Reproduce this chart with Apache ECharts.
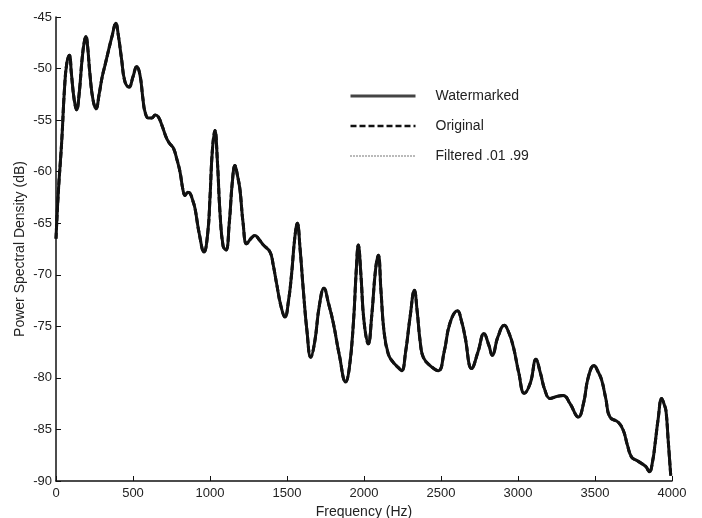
<!DOCTYPE html>
<html>
<head>
<meta charset="utf-8">
<script src="https://cdn.jsdelivr.net/npm/echarts@6/dist/echarts.min.js"></script>
<style>html,body{margin:0;padding:0;background:#fff}#c{width:702px;height:518px}</style>
</head>
<body>
<div id="c"></div>
<script>
// Frequency (Hz) samples
const freq = [0,15,37,55,70,87,100,118,134,150,170,185,195,205,220,240,260,280,300,318,340,365,388,405,425,448,474,500,524,545,565,578,600,621,645,665,690,719,740,762,785,805,825,838,855,870,888,903,930,961,985,1000,1015,1032,1048,1065,1085,1104,1125,1145,1162,1180,1195,1215,1238,1265,1292,1320,1346,1390,1410,1433,1460,1487,1510,1530,1550,1567,1585,1606,1630,1654,1680,1710,1740,1770,1801,1840,1881,1905,1931,1950,1963,1980,2000,2028,2050,2075,2093,2110,2130,2158,2190,2223,2245,2270,2300,2327,2345,2365,2385,2429,2483,2520,2558,2606,2635,2656,2699,2740,2779,2810,2833,2870,2911,2940,2970,3005,3041,3080,3117,3145,3175,3208,3250,3294,3338,3392,3425,3457,3494,3520,3543,3570,3597,3651,3684,3710,3738,3770,3803,3830,3853,3875,3890,3910,3933,3950,3961,3975,3992];
// Power spectral density (dB) — the three curves coincide in the picture
const watermarked = [-66.5,-62,-57.1,-52,-49.5,-48.7,-50.5,-53,-54.0,-52.5,-49,-47.3,-46.9,-47.8,-50.5,-53,-53.9,-52.5,-50.8,-49.7,-48.3,-46.8,-45.6,-46.8,-49,-51.3,-51.8,-50.8,-49.8,-50.6,-53,-54.2,-54.8,-54.8,-54.5,-54.7,-55.6,-56.8,-57.3,-57.7,-58.8,-60.0,-61.8,-62.3,-62.0,-62.1,-62.8,-63.6,-66.0,-67.8,-66,-62.5,-58,-56.0,-59,-64,-67.2,-67.6,-65,-61,-59.4,-60.5,-61.8,-65,-67.0,-66.5,-66.2,-66.6,-67.1,-67.8,-69,-70.9,-73,-74.1,-72.5,-69.9,-66.5,-65.0,-67.5,-71.5,-75.5,-78.0,-76.5,-73,-71.3,-72.8,-74.7,-77.8,-80.4,-79,-74.7,-69.5,-67.1,-70,-74.5,-76.7,-74,-69.5,-68.1,-71.5,-75.5,-77.7,-78.5,-79.0,-79.3,-77.5,-74,-71.5,-73.5,-76.5,-78.0,-78.8,-79.3,-77.5,-74.7,-73.5,-74.6,-76.0,-79.1,-77.5,-75.7,-76.8,-77.8,-76,-74.9,-75.6,-77.0,-79.5,-81.5,-80.5,-78.2,-79.5,-81.2,-82.0,-81.8,-81.7,-82.5,-83.8,-82.5,-79.9,-78.8,-79.4,-80.2,-82,-83.8,-84.3,-85.1,-86.5,-87.7,-88.0,-88.3,-88.6,-89.1,-88,-86.4,-84,-82.0,-82.6,-83.2,-86,-89.5];
const original = watermarked;
const filtered = watermarked;
const xTicks = [0,500,1000,1500,2000,2500,3000,3500,4000];
const yTicks = [-90,-85,-80,-75,-70,-65,-60,-55,-50,-45];
const seriesNames = ['Watermarked','Original','Filtered .01 .99'];

const pairs = arr => freq.map((f,i)=>[f,arr[i]]);
const chart = echarts.init(document.getElementById('c'), null, {renderer:'canvas'});
const font = 'Liberation Sans, Arial, sans-serif';
chart.setOption({
  animation:false,
  backgroundColor:'#fff',
  grid:{left:56,right:30,top:17,bottom:37,containLabel:false,outerBoundsMode:'none'},
  legend:{
    orient:'vertical', left:344, top:84, itemWidth:65, itemHeight:14, itemGap:16,
    textStyle:{fontFamily:font,fontSize:14,color:'#222',padding:[0,0,0,15]},
    data:[
      {name:seriesNames[0], itemStyle:{opacity:0}, lineStyle:{color:'#444',width:3,type:'solid'}},
      {name:seriesNames[1], itemStyle:{opacity:0}, lineStyle:{color:'#111',width:2.5,type:[6,3]}},
      {name:seriesNames[2], itemStyle:{opacity:0}, lineStyle:{color:'#777',width:2,type:[1,2]}}
    ]
  },
  xAxis:{
    type:'value', min:0, max:4000, interval:500,
    name:'Frequency (Hz)', nameLocation:'middle', nameGap:24,
    nameTextStyle:{fontFamily:font,fontSize:14,color:'#222'},
    axisLine:{lineStyle:{color:'#111',width:1.5}},
    axisTick:{inside:true,length:5,lineStyle:{color:'#111'}},
    axisLabel:{fontFamily:font,fontSize:13,color:'#222',margin:6,
      formatter:v=>xTicks.includes(v)?String(v):''},
    splitLine:{show:false}
  },
  yAxis:{
    type:'value', min:-90, max:-45, interval:5,
    name:'Power Spectral Density (dB)', nameLocation:'middle', nameGap:29, nameMoveOverlap:false,
    nameTextStyle:{fontFamily:font,fontSize:14,color:'#222'},
    axisLine:{show:true,lineStyle:{color:'#111',width:1.5}},
    axisTick:{show:true,inside:true,length:5,lineStyle:{color:'#111'}},
    axisLabel:{fontFamily:font,fontSize:13,color:'#222',margin:4,
      formatter:v=>yTicks.includes(v)?String(v):''},
    splitLine:{show:false}
  },
  series:[
    {name:seriesNames[2],type:'line',data:pairs(filtered),symbol:'none',smooth:0.45,color:'#777',
      lineStyle:{color:'#777',width:2,type:[1,2]},z:1},
    {name:seriesNames[1],type:'line',data:pairs(original),symbol:'none',smooth:0.45,color:'#111',
      lineStyle:{color:'#111',width:3,type:[6,3]},z:2},
    {name:seriesNames[0],type:'line',data:pairs(watermarked),symbol:'none',smooth:0.45,color:'#444',
      lineStyle:{color:'#111',width:3},z:3}
  ]
});
</script>
</body>
</html>
